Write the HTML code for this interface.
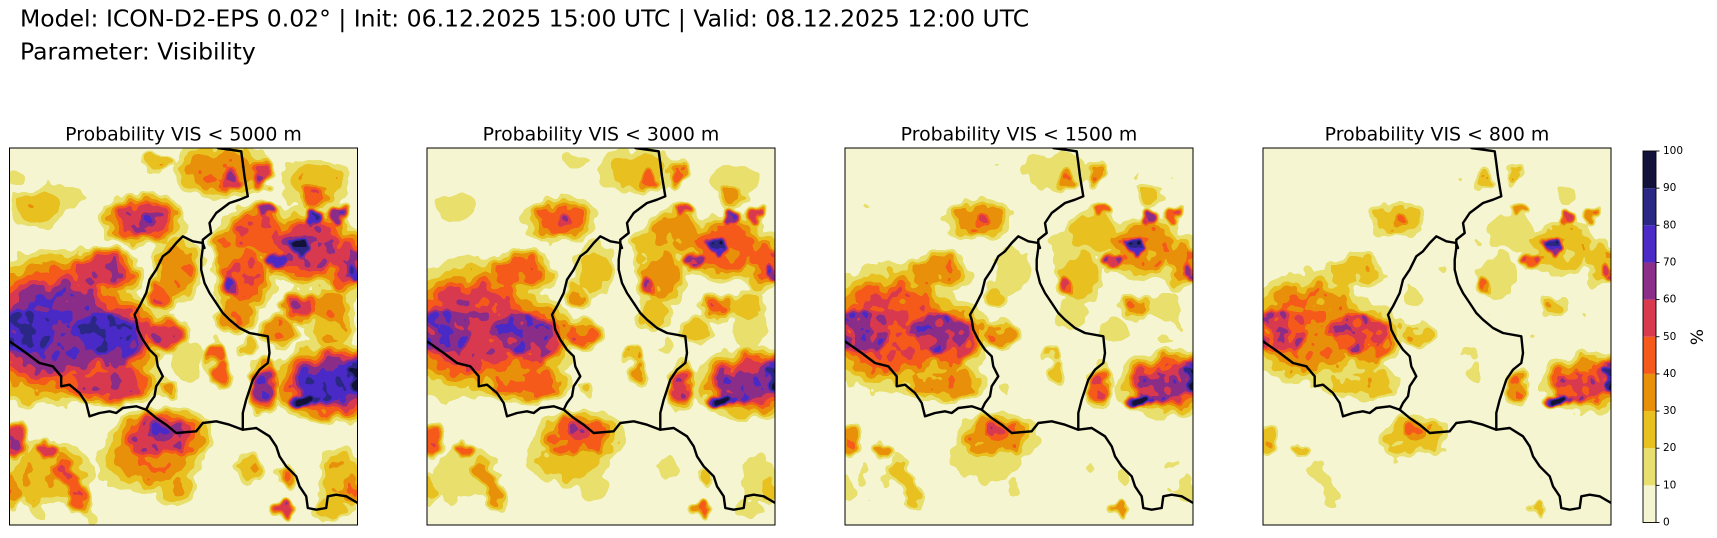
<!DOCTYPE html>
<html><head><meta charset="utf-8"><style>
html,body{margin:0;padding:0;background:#fff;overflow:hidden}
svg{display:block}
text{font-family:"DejaVu Sans","Liberation Sans",sans-serif;fill:#000}
.b{fill:none;stroke:#000;stroke-width:2.4;stroke-linejoin:round;stroke-linecap:round}
</style></head><body>
<svg width="1717" height="538" viewBox="0 0 1717 538" xmlns="http://www.w3.org/2000/svg" xmlns:xlink="http://www.w3.org/1999/xlink">
<defs>
<radialGradient id="g1"><stop offset="0" stop-color="rgb(47,47,47)"/><stop offset=".45" stop-color="rgb(47,47,47)"/><stop offset="1" stop-color="#000"/></radialGradient>
<radialGradient id="g2"><stop offset="0" stop-color="rgb(73,73,73)"/><stop offset=".45" stop-color="rgb(73,73,73)"/><stop offset="1" stop-color="#000"/></radialGradient>
<radialGradient id="g3"><stop offset="0" stop-color="rgb(98,98,98)"/><stop offset=".45" stop-color="rgb(98,98,98)"/><stop offset="1" stop-color="#000"/></radialGradient>
<radialGradient id="g4"><stop offset="0" stop-color="rgb(124,124,124)"/><stop offset=".45" stop-color="rgb(124,124,124)"/><stop offset="1" stop-color="#000"/></radialGradient>
<radialGradient id="g5"><stop offset="0" stop-color="rgb(149,149,149)"/><stop offset=".45" stop-color="rgb(149,149,149)"/><stop offset="1" stop-color="#000"/></radialGradient>
<radialGradient id="g6"><stop offset="0" stop-color="rgb(175,175,175)"/><stop offset=".45" stop-color="rgb(175,175,175)"/><stop offset="1" stop-color="#000"/></radialGradient>
<radialGradient id="g7"><stop offset="0" stop-color="rgb(200,200,200)"/><stop offset=".45" stop-color="rgb(200,200,200)"/><stop offset="1" stop-color="#000"/></radialGradient>
<radialGradient id="g8"><stop offset="0" stop-color="rgb(226,226,226)"/><stop offset=".45" stop-color="rgb(226,226,226)"/><stop offset="1" stop-color="#000"/></radialGradient>
<radialGradient id="g9"><stop offset="0" stop-color="rgb(251,251,251)"/><stop offset=".45" stop-color="rgb(251,251,251)"/><stop offset="1" stop-color="#000"/></radialGradient>

<clipPath id="clip" clipPathUnits="userSpaceOnUse"><rect x="0" y="0" width="348" height="377"/></clipPath>

<filter id="f1" filterUnits="userSpaceOnUse" x="-20" y="-20" width="388" height="417" color-interpolation-filters="sRGB">
<feTurbulence type="fractalNoise" baseFrequency="0.06" numOctaves="2" seed="7" result="n"/>
<feDisplacementMap in="SourceGraphic" in2="n" scale="20" xChannelSelector="R" yChannelSelector="B" result="d"/>
<feTurbulence type="fractalNoise" baseFrequency="0.08" numOctaves="2" seed="3" result="n2"/>
<feColorMatrix in="n2" type="matrix" values="1 0 0 0 0  1 0 0 0 0  1 0 0 0 0  0 0 0 0 1" result="m"/>
<feComposite in="d" in2="m" operator="arithmetic" k1="0.4" k2="0.8" k3="0" k4="0" result="c"/>
<feGaussianBlur in="c" stdDeviation="1" result="bl"/>
<feComponentTransfer in="bl"><feFuncR type="gamma" amplitude="1" exponent="1" offset="0"/><feFuncG type="gamma" amplitude="1" exponent="1" offset="0"/><feFuncB type="gamma" amplitude="1" exponent="1" offset="0"/><feFuncA type="linear" slope="0" intercept="1"/></feComponentTransfer>
<feComponentTransfer>
<feFuncR type="discrete" tableValues=".961 .910 .910 .910 .961 .851 .545 .294 .169 .071"/>
<feFuncG type="discrete" tableValues=".961 .875 .753 .565 .353 .227 .180 .165 .153 .071"/>
<feFuncB type="discrete" tableValues=".824 .431 .125 .039 .102 .306 .541 .784 .522 .227"/>
</feComponentTransfer>
</filter>
<filter id="f2" filterUnits="userSpaceOnUse" x="-20" y="-20" width="388" height="417" color-interpolation-filters="sRGB">
<feTurbulence type="fractalNoise" baseFrequency="0.06" numOctaves="2" seed="7" result="n"/>
<feDisplacementMap in="SourceGraphic" in2="n" scale="20" xChannelSelector="R" yChannelSelector="B" result="d"/>
<feTurbulence type="fractalNoise" baseFrequency="0.08" numOctaves="2" seed="3" result="n2"/>
<feColorMatrix in="n2" type="matrix" values="1 0 0 0 0  1 0 0 0 0  1 0 0 0 0  0 0 0 0 1" result="m"/>
<feComposite in="d" in2="m" operator="arithmetic" k1="0.4" k2="0.8" k3="0" k4="0" result="c"/>
<feGaussianBlur in="c" stdDeviation="1" result="bl"/>
<feComponentTransfer in="bl"><feFuncR type="gamma" amplitude=".975" exponent="1.5" offset="0"/><feFuncG type="gamma" amplitude=".975" exponent="1.5" offset="0"/><feFuncB type="gamma" amplitude=".975" exponent="1.5" offset="0"/><feFuncA type="linear" slope="0" intercept="1"/></feComponentTransfer>
<feComponentTransfer>
<feFuncR type="discrete" tableValues=".961 .910 .910 .910 .961 .851 .545 .294 .169 .071"/>
<feFuncG type="discrete" tableValues=".961 .875 .753 .565 .353 .227 .180 .165 .153 .071"/>
<feFuncB type="discrete" tableValues=".824 .431 .125 .039 .102 .306 .541 .784 .522 .227"/>
</feComponentTransfer>
</filter>
<filter id="f3" filterUnits="userSpaceOnUse" x="-20" y="-20" width="388" height="417" color-interpolation-filters="sRGB">
<feTurbulence type="fractalNoise" baseFrequency="0.06" numOctaves="2" seed="7" result="n"/>
<feDisplacementMap in="SourceGraphic" in2="n" scale="20" xChannelSelector="R" yChannelSelector="B" result="d"/>
<feTurbulence type="fractalNoise" baseFrequency="0.08" numOctaves="2" seed="3" result="n2"/>
<feColorMatrix in="n2" type="matrix" values="1 0 0 0 0  1 0 0 0 0  1 0 0 0 0  0 0 0 0 1" result="m"/>
<feComposite in="d" in2="m" operator="arithmetic" k1="0.4" k2="0.8" k3="0" k4="0" result="c"/>
<feGaussianBlur in="c" stdDeviation="1" result="bl"/>
<feComponentTransfer in="bl"><feFuncR type="gamma" amplitude="1" exponent="1.9" offset="0"/><feFuncG type="gamma" amplitude="1" exponent="1.9" offset="0"/><feFuncB type="gamma" amplitude="1" exponent="1.9" offset="0"/><feFuncA type="linear" slope="0" intercept="1"/></feComponentTransfer>
<feComponentTransfer>
<feFuncR type="discrete" tableValues=".961 .910 .910 .910 .961 .851 .545 .294 .169 .071"/>
<feFuncG type="discrete" tableValues=".961 .875 .753 .565 .353 .227 .180 .165 .153 .071"/>
<feFuncB type="discrete" tableValues=".824 .431 .125 .039 .102 .306 .541 .784 .522 .227"/>
</feComponentTransfer>
</filter>
<filter id="f4" filterUnits="userSpaceOnUse" x="-20" y="-20" width="388" height="417" color-interpolation-filters="sRGB">
<feTurbulence type="fractalNoise" baseFrequency="0.06" numOctaves="2" seed="7" result="n"/>
<feDisplacementMap in="SourceGraphic" in2="n" scale="20" xChannelSelector="R" yChannelSelector="B" result="d"/>
<feTurbulence type="fractalNoise" baseFrequency="0.08" numOctaves="2" seed="3" result="n2"/>
<feColorMatrix in="n2" type="matrix" values="1 0 0 0 0  1 0 0 0 0  1 0 0 0 0  0 0 0 0 1" result="m"/>
<feComposite in="d" in2="m" operator="arithmetic" k1="0.4" k2="0.8" k3="0" k4="0" result="c"/>
<feGaussianBlur in="c" stdDeviation="1" result="bl"/>
<feComponentTransfer in="bl"><feFuncR type="gamma" amplitude="1" exponent="2.6" offset="0"/><feFuncG type="gamma" amplitude="1" exponent="2.6" offset="0"/><feFuncB type="gamma" amplitude="1" exponent="2.6" offset="0"/><feFuncA type="linear" slope="0" intercept="1"/></feComponentTransfer>
<feComponentTransfer>
<feFuncR type="discrete" tableValues=".961 .910 .910 .910 .961 .851 .545 .294 .169 .071"/>
<feFuncG type="discrete" tableValues=".961 .875 .753 .565 .353 .227 .180 .165 .153 .071"/>
<feFuncB type="discrete" tableValues=".824 .431 .125 .039 .102 .306 .541 .784 .522 .227"/>
</feComponentTransfer>
</filter>

<g id="field">
<rect x="-20" y="-20" width="388" height="417" fill="#000"/>
<ellipse cx="45" cy="180" rx="100" ry="85" fill="url(#g6)" style="mix-blend-mode:lighten"/>
<ellipse cx="105" cy="190" rx="55" ry="50" fill="url(#g6)" style="mix-blend-mode:lighten"/>
<ellipse cx="90" cy="125" rx="50" ry="30" fill="url(#g5)" style="mix-blend-mode:lighten"/>
<ellipse cx="100" cy="235" rx="60" ry="28" fill="url(#g5)" style="mix-blend-mode:lighten"/>
<ellipse cx="25" cy="150" rx="40" ry="30" fill="url(#g5)" style="mix-blend-mode:lighten"/>
<ellipse cx="20" cy="183" rx="55" ry="48" fill="url(#g7)" style="mix-blend-mode:lighten"/>
<ellipse cx="95" cy="185" rx="60" ry="38" fill="url(#g7)" style="mix-blend-mode:lighten"/>
<ellipse cx="12" cy="240" rx="28" ry="22" fill="url(#g2)" style="mix-blend-mode:lighten"/>
<ellipse cx="155" cy="185" rx="30" ry="22" fill="url(#g5)" style="mix-blend-mode:lighten"/>
<ellipse cx="133" cy="72" rx="48" ry="30" fill="url(#g5)" style="mix-blend-mode:lighten"/>
<ellipse cx="137" cy="72" rx="16" ry="10" fill="url(#g6)" style="mix-blend-mode:lighten"/>
<ellipse cx="30" cy="58" rx="34" ry="28" fill="url(#g2)" style="mix-blend-mode:lighten"/>
<ellipse cx="58" cy="50" rx="26" ry="20" fill="url(#g1)" style="mix-blend-mode:lighten"/>
<ellipse cx="8" cy="28" rx="14" ry="9" fill="url(#g1)" style="mix-blend-mode:lighten"/>
<ellipse cx="148" cy="15" rx="18" ry="10" fill="url(#g2)" style="mix-blend-mode:lighten"/>
<ellipse cx="168" cy="122" rx="32" ry="42" fill="url(#g3)" style="mix-blend-mode:lighten"/>
<ellipse cx="150" cy="148" rx="18" ry="20" fill="url(#g4)" style="mix-blend-mode:lighten"/>
<ellipse cx="178" cy="215" rx="22" ry="32" fill="url(#g1)" style="mix-blend-mode:lighten"/>
<ellipse cx="160" cy="242" rx="14" ry="12" fill="url(#g3)" style="mix-blend-mode:lighten"/>
<ellipse cx="205" cy="205" rx="12" ry="16" fill="url(#g4)" style="mix-blend-mode:lighten"/>
<ellipse cx="240" cy="200" rx="12" ry="12" fill="url(#g2)" style="mix-blend-mode:lighten"/>
<ellipse cx="212" cy="22" rx="55" ry="35" fill="url(#g3)" style="mix-blend-mode:lighten"/>
<ellipse cx="222" cy="33" rx="16" ry="13" fill="url(#g5)" style="mix-blend-mode:lighten"/>
<ellipse cx="252" cy="26" rx="14" ry="17" fill="url(#g5)" style="mix-blend-mode:lighten"/>
<ellipse cx="305" cy="35" rx="45" ry="32" fill="url(#g2)" style="mix-blend-mode:lighten"/>
<ellipse cx="305" cy="48" rx="20" ry="16" fill="url(#g4)" style="mix-blend-mode:lighten"/>
<ellipse cx="220" cy="100" rx="22" ry="30" fill="url(#g3)" style="mix-blend-mode:lighten"/>
<ellipse cx="235" cy="130" rx="35" ry="45" fill="url(#g4)" style="mix-blend-mode:lighten"/>
<ellipse cx="250" cy="85" rx="45" ry="35" fill="url(#g4)" style="mix-blend-mode:lighten"/>
<ellipse cx="300" cy="100" rx="55" ry="45" fill="url(#g5)" style="mix-blend-mode:lighten"/>
<ellipse cx="338" cy="115" rx="25" ry="40" fill="url(#g5)" style="mix-blend-mode:lighten"/>
<ellipse cx="267" cy="112" rx="16" ry="14" fill="url(#g7)" style="mix-blend-mode:lighten"/>
<ellipse cx="291" cy="100" rx="18" ry="16" fill="url(#g8)" style="mix-blend-mode:lighten"/>
<ellipse cx="344" cy="126" rx="14" ry="16" fill="url(#g7)" style="mix-blend-mode:lighten"/>
<ellipse cx="257" cy="62" rx="12" ry="12" fill="url(#g6)" style="mix-blend-mode:lighten"/>
<ellipse cx="304" cy="72" rx="14" ry="14" fill="url(#g7)" style="mix-blend-mode:lighten"/>
<ellipse cx="327" cy="68" rx="12" ry="14" fill="url(#g6)" style="mix-blend-mode:lighten"/>
<ellipse cx="221" cy="138" rx="16" ry="14" fill="url(#g6)" style="mix-blend-mode:lighten"/>
<ellipse cx="291" cy="158" rx="22" ry="20" fill="url(#g5)" style="mix-blend-mode:lighten"/>
<ellipse cx="320" cy="160" rx="30" ry="28" fill="url(#g3)" style="mix-blend-mode:lighten"/>
<ellipse cx="322" cy="182" rx="32" ry="26" fill="url(#g2)" style="mix-blend-mode:lighten"/>
<ellipse cx="270" cy="182" rx="26" ry="22" fill="url(#g3)" style="mix-blend-mode:lighten"/>
<ellipse cx="225" cy="165" rx="26" ry="26" fill="url(#g3)" style="mix-blend-mode:lighten"/>
<ellipse cx="212" cy="226" rx="15" ry="22" fill="url(#g4)" style="mix-blend-mode:lighten"/>
<ellipse cx="254" cy="240" rx="18" ry="32" fill="url(#g6)" style="mix-blend-mode:lighten"/>
<ellipse cx="322" cy="235" rx="68" ry="46" fill="url(#g6)" style="mix-blend-mode:lighten"/>
<ellipse cx="315" cy="240" rx="48" ry="28" fill="url(#g7)" style="mix-blend-mode:lighten"/>
<ellipse cx="345" cy="228" rx="22" ry="32" fill="url(#g7)" style="mix-blend-mode:lighten"/>
<ellipse cx="296" cy="252" rx="20" ry="11" fill="url(#g9)" style="mix-blend-mode:lighten"/>
<ellipse cx="346" cy="232" rx="12" ry="18" fill="url(#g9)" style="mix-blend-mode:lighten"/>
<ellipse cx="5" cy="292" rx="20" ry="22" fill="url(#g5)" style="mix-blend-mode:lighten"/>
<ellipse cx="38" cy="302" rx="15" ry="11" fill="url(#g5)" style="mix-blend-mode:lighten"/>
<ellipse cx="62" cy="335" rx="48" ry="14" fill="url(#g4)" transform="rotate(62 62 335)" style="mix-blend-mode:lighten"/>
<ellipse cx="20" cy="345" rx="40" ry="10" fill="url(#g2)" transform="rotate(65 20 345)" style="mix-blend-mode:lighten"/>
<ellipse cx="3" cy="340" rx="14" ry="22" fill="url(#g3)" style="mix-blend-mode:lighten"/>
<ellipse cx="40" cy="325" rx="55" ry="40" fill="url(#g2)" style="mix-blend-mode:lighten"/>
<ellipse cx="152" cy="288" rx="58" ry="34" fill="url(#g5)" style="mix-blend-mode:lighten"/>
<ellipse cx="152" cy="282" rx="20" ry="13" fill="url(#g6)" style="mix-blend-mode:lighten"/>
<ellipse cx="140" cy="312" rx="62" ry="38" fill="url(#g3)" style="mix-blend-mode:lighten"/>
<ellipse cx="165" cy="338" rx="28" ry="26" fill="url(#g2)" style="mix-blend-mode:lighten"/>
<ellipse cx="240" cy="320" rx="16" ry="22" fill="url(#g2)" style="mix-blend-mode:lighten"/>
<ellipse cx="278" cy="330" rx="14" ry="14" fill="url(#g3)" style="mix-blend-mode:lighten"/>
<ellipse cx="274" cy="362" rx="12" ry="10" fill="url(#g5)" style="mix-blend-mode:lighten"/>
<ellipse cx="320" cy="360" rx="24" ry="16" fill="url(#g2)" style="mix-blend-mode:lighten"/>
<ellipse cx="330" cy="330" rx="30" ry="40" fill="url(#g2)" style="mix-blend-mode:lighten"/>
<ellipse cx="342" cy="340" rx="14" ry="22" fill="url(#g3)" style="mix-blend-mode:lighten"/>
</g>

<g id="borders">
<path class="b" d="M0,193.3 L16.7,205 L30,215 L43.3,218.3 L51.7,228.3 L51.7,238.3 L60,236.7 L70,245 L76.7,255 L80,268.3 L90,265 L100,263.3 L106.7,265 L113.3,260 L126.7,258.3 L136.7,261.7 L146.7,270 L156.7,276.7 L166.7,285 L186.7,283.3 L193.3,275 L206.7,273.3 L220,276.7 L233.3,281.7 L246.7,280 L260,288.3 L266.7,298.3 L270,308.3 L276.7,318.3 L286.7,328.3 L290,338.3 L296.7,348.3 L298.3,360 L306.7,361.7 L316.7,360 L318.3,348.3 L326.7,346.7 L336.7,348.3 L350,356"/>
<path class="b" d="M136.7,261.7 L140,255 L145,248.3 L146.7,238.3 L153.3,228.3 L148.3,218.3 L146.7,208.3 L140,201.7 L133.3,191.7 L128.3,181.7 L126.7,171.7 L125,166.7 L130,158.3 L136.7,145 L140,131.7 L146.7,121.7 L153.3,108.3 L160,103.3 L166.7,95 L173.3,88.3 L183.3,93.3 L193.3,95 L195,100"/>
<path class="b" d="M206,-2 L208.3,0 L231.7,3.3 L233.3,15 L235,28.3 L238.3,48.3 L230,51.7 L220,55 L206.7,65 L200,75 L201.7,85 L193.3,91.7 L193.3,100 L191.7,111.7 L191.7,121.7 L195,135 L200,145 L206.7,155 L213.3,165 L220,171.7 L230,180 L240,185 L258.3,188.3 L260,205 L258.3,215 L250,221.7 L243.3,231.7 L240,241.7 L236.7,251.7 L233.3,265 L233.3,281.7"/>
</g>
</defs>

<text x="20" y="26.7" font-size="23.5">Model: ICON-D2-EPS 0.02° | Init: 06.12.2025 15:00 UTC | Valid: 08.12.2025 12:00 UTC</text>
<text x="20" y="59.3" font-size="23.5">Parameter: Visibility</text>

<g transform="translate(9.5,148)">
<text x="174" y="-7.3" font-size="18.9" text-anchor="middle">Probability VIS &lt; 5000 m</text>
<g clip-path="url(#clip)">
<g filter="url(#f1)"><use href="#field" xlink:href="#field"/></g>
<use href="#borders" xlink:href="#borders"/>
</g>
<rect x="0" y="0" width="348" height="377" fill="none" stroke="#000" stroke-width="1"/>
</g>

<g transform="translate(427,148)">
<text x="174" y="-7.3" font-size="18.9" text-anchor="middle">Probability VIS &lt; 3000 m</text>
<g clip-path="url(#clip)">
<g filter="url(#f2)"><use href="#field" xlink:href="#field"/></g>
<use href="#borders" xlink:href="#borders"/>
</g>
<rect x="0" y="0" width="348" height="377" fill="none" stroke="#000" stroke-width="1"/>
</g>

<g transform="translate(845,148)">
<text x="174" y="-7.3" font-size="18.9" text-anchor="middle">Probability VIS &lt; 1500 m</text>
<g clip-path="url(#clip)">
<g filter="url(#f3)"><use href="#field" xlink:href="#field"/></g>
<use href="#borders" xlink:href="#borders"/>
</g>
<rect x="0" y="0" width="348" height="377" fill="none" stroke="#000" stroke-width="1"/>
</g>

<g transform="translate(1263,148)">
<text x="174" y="-7.3" font-size="18.9" text-anchor="middle">Probability VIS &lt; 800 m</text>
<g clip-path="url(#clip)">
<g filter="url(#f4)"><use href="#field" xlink:href="#field"/></g>
<use href="#borders" xlink:href="#borders"/>
</g>
<rect x="0" y="0" width="348" height="377" fill="none" stroke="#000" stroke-width="1"/>
</g>

<g>
<rect x="1643" y="485.35" width="13" height="37.15" fill="#f5f5d2"/>
<rect x="1643" y="448.2" width="13" height="37.15" fill="#e8df6e"/>
<rect x="1643" y="411.05" width="13" height="37.15" fill="#e8c020"/>
<rect x="1643" y="373.9" width="13" height="37.15" fill="#e8900a"/>
<rect x="1643" y="336.75" width="13" height="37.15" fill="#f55a1a"/>
<rect x="1643" y="299.6" width="13" height="37.15" fill="#d93a4e"/>
<rect x="1643" y="262.45" width="13" height="37.15" fill="#8b2e8a"/>
<rect x="1643" y="225.3" width="13" height="37.15" fill="#4b2ac8"/>
<rect x="1643" y="188.15" width="13" height="37.15" fill="#2b2785"/>
<rect x="1643" y="151" width="13" height="37.15" fill="#12123a"/>
<rect x="1643" y="151" width="13" height="371.5" fill="none" stroke="#000" stroke-width="0.9"/>
<g stroke="#000" stroke-width="0.9">
<line x1="1656" y1="522.5" x2="1659.5" y2="522.5"/>
<line x1="1656" y1="485.35" x2="1659.5" y2="485.35"/>
<line x1="1656" y1="448.2" x2="1659.5" y2="448.2"/>
<line x1="1656" y1="411.05" x2="1659.5" y2="411.05"/>
<line x1="1656" y1="373.9" x2="1659.5" y2="373.9"/>
<line x1="1656" y1="336.75" x2="1659.5" y2="336.75"/>
<line x1="1656" y1="299.6" x2="1659.5" y2="299.6"/>
<line x1="1656" y1="262.45" x2="1659.5" y2="262.45"/>
<line x1="1656" y1="225.3" x2="1659.5" y2="225.3"/>
<line x1="1656" y1="188.15" x2="1659.5" y2="188.15"/>
<line x1="1656" y1="151" x2="1659.5" y2="151"/>
</g>
<g font-size="10.5">
<text x="1663" y="522.5" dominant-baseline="central">0</text>
<text x="1663" y="485.35" dominant-baseline="central">10</text>
<text x="1663" y="448.2" dominant-baseline="central">20</text>
<text x="1663" y="411.05" dominant-baseline="central">30</text>
<text x="1663" y="373.9" dominant-baseline="central">40</text>
<text x="1663" y="336.75" dominant-baseline="central">50</text>
<text x="1663" y="299.6" dominant-baseline="central">60</text>
<text x="1663" y="262.45" dominant-baseline="central">70</text>
<text x="1663" y="225.3" dominant-baseline="central">80</text>
<text x="1663" y="188.15" dominant-baseline="central">90</text>
<text x="1663" y="151" dominant-baseline="central">100</text>
</g>
<text x="0" y="0" font-size="17" text-anchor="middle" dominant-baseline="central" transform="translate(1698,337) rotate(-90)">%</text>
</g>
</svg>
</body></html>
